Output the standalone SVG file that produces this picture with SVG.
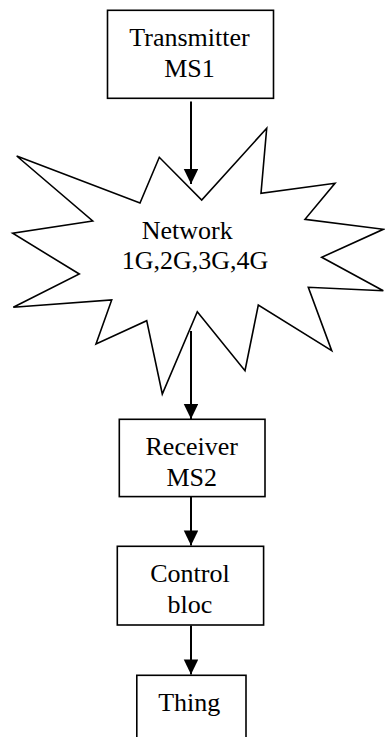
<svg xmlns="http://www.w3.org/2000/svg" width="385" height="737" viewBox="0 0 385 737">
  <style>
    .box { fill: #fff; stroke: #000; stroke-width: 1.6; }
    .star { fill: #fff; stroke: #000; stroke-width: 1.6; stroke-linejoin: miter; }
    .lbl { font-family: "Liberation Serif", "Times New Roman", serif; font-size: 26px; fill: #000; }
    .mid { text-anchor: middle; }
    .wire { stroke: #000; stroke-width: 2; fill: none; }
  </style>
  <defs>
    <marker id="head" markerWidth="8" markerHeight="8" refX="7.5" refY="4" orient="auto" markerUnits="userSpaceOnUse" viewBox="0 0 8 8">
      <path d="M0,0 L8,4 L0,8 Z" fill="#000"/>
    </marker>
    <marker id="tip" viewBox="0 0 14 15" refX="15" refY="7.25" markerWidth="15" markerHeight="15" orient="auto" markerUnits="userSpaceOnUse">
      <path d="M0,0 L15,7.25 L0,14.5 Z" fill="#000"/>
    </marker>
  </defs>
  <rect width="385" height="737" fill="#fff"/>

  <g id="network">
    <polygon class="star" points="16.7,156 140,203 159.3,157.3 201.7,200 266.7,128.3 261,193.3 335,183.3 305,219.3 383.3,229.3 321.7,257.3 383.3,290.7 308.3,287.3 331.7,350.7 258.3,305 245,370.7 197.3,311.7 162.3,394 146.7,320.7 96,344 111.7,300 13.3,307.3 79.3,274 12.7,233.3 92.7,221"/>
    <text class="lbl" x="141.7" y="239.3">Network</text>
    <text class="lbl" x="121.7" y="269.3">1G,2G,3G,4G</text>
  </g>

  <g id="connectors">
    <line class="wire" x1="191" y1="101.5" x2="191" y2="184" marker-end="url(#tip)"/>
    <line class="wire" x1="191" y1="331" x2="191" y2="419" marker-end="url(#tip)"/>
    <line class="wire" x1="191" y1="497" x2="191" y2="545.5" marker-end="url(#tip)"/>
    <line class="wire" x1="191" y1="625.5" x2="191" y2="674.5" marker-end="url(#tip)"/>
  </g>

  <g id="transmitter">
    <rect class="box" x="107.5" y="10.3" width="166" height="88"/>
    <text class="lbl mid" x="189.5" y="46">Transmitter</text>
    <text class="lbl mid" x="189.5" y="77">MS1</text>
  </g>

  <g id="receiver">
    <rect class="box" x="119.3" y="419.3" width="145.7" height="77.3"/>
    <text class="lbl mid" x="191.7" y="455">Receiver</text>
    <text class="lbl mid" x="191.7" y="485.7">MS2</text>
  </g>

  <g id="control">
    <rect class="box" x="117.3" y="546.3" width="146.3" height="78.7"/>
    <text class="lbl mid" x="190" y="581.7">Control</text>
    <text class="lbl mid" x="190" y="612.7">bloc</text>
  </g>

  <g id="thing">
    <rect class="box" x="136.8" y="675.3" width="109.2" height="80"/>
    <text class="lbl mid" x="189.2" y="711">Thing</text>
  </g>
</svg>
